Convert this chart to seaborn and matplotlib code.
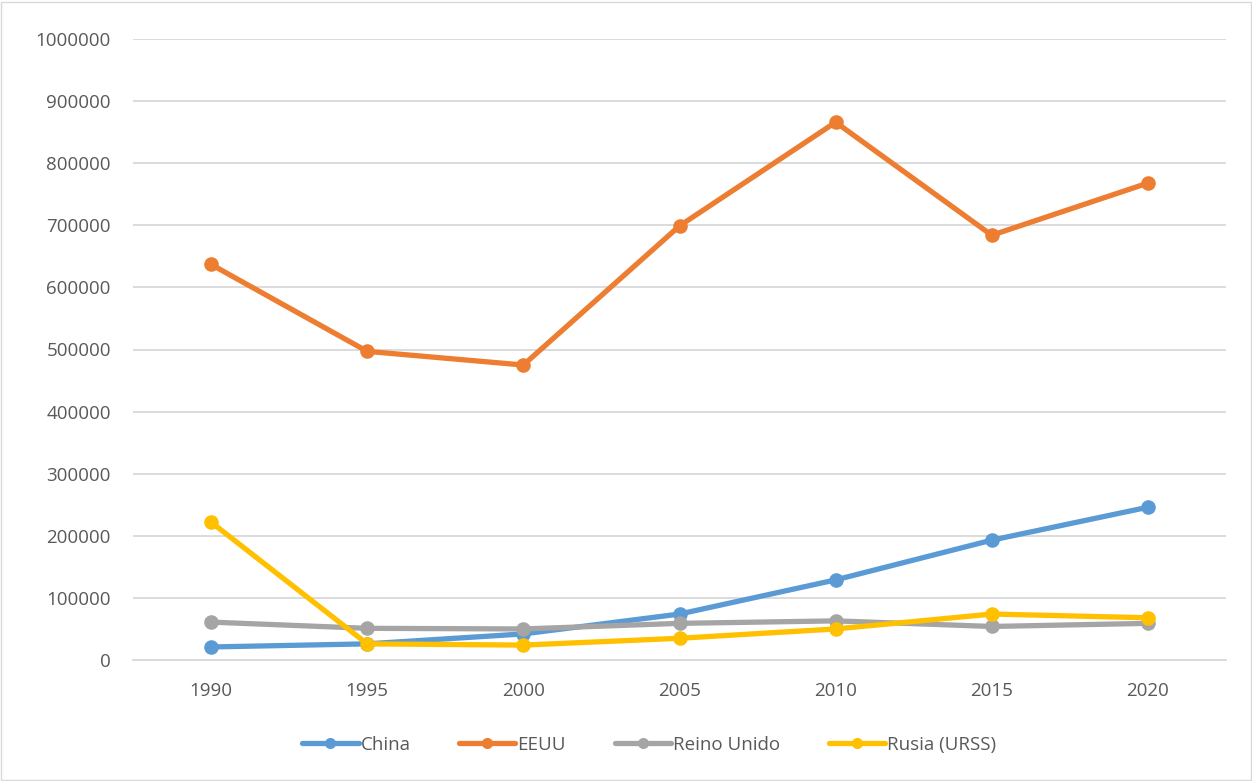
import pandas as pd
import matplotlib.pyplot as plt
import seaborn as sns
from matplotlib.patches import Rectangle

# data
years = [1990, 1995, 2000, 2005, 2010, 2015, 2020]
china = [21000, 26000, 42000, 74000, 129000, 193000, 246000]
eeuu = [637000, 497000, 475000, 699000, 866000, 684000, 768000]
reino_unido = [61000, 51000, 50000, 59000, 63000, 54000, 59000]
rusia = [222000, 26000, 24000, 35000, 50000, 74000, 68000]

series = ["China", "EEUU", "Reino Unido", "Rusia (URSS)"]
palette = ["#5B9BD5", "#ED7D31", "#A5A5A5", "#FFC000"]

df = pd.DataFrame({"year": years, "China": china, "EEUU": eeuu,
                   "Reino Unido": reino_unido, "Rusia (URSS)": rusia})
long_df = df.melt(id_vars="year", var_name="pais", value_name="valor")

#%% Plot
sns.set_style("white")
plt.rcParams["font.family"] = ["Open Sans", "DejaVu Sans"]

fig = plt.figure(figsize=(12.52, 7.81), dpi=100)
ax = fig.add_axes([133 / 1252, 1 - 660 / 781, (1226 - 133) / 1252, (660 - 39) / 781])

sns.lineplot(data=long_df, x="year", y="valor", hue="pais", hue_order=series,
             palette=palette, marker="o", markersize=10.5, markeredgewidth=0,
             linewidth=3.8, ax=ax)

ax.set_xlim(1987.5, 2022.5)
ax.set_ylim(0, 1000000)
ax.set_xticks(years)
ax.set_yticks(range(0, 1000001, 100000))
ax.set_yticklabels([str(v) for v in range(0, 1000001, 100000)])
ax.yaxis.grid(True, color="#D9D9D9", linewidth=1.3)
ax.set_axisbelow(True)
for s in ["left", "right", "top"]:
    ax.spines[s].set_visible(False)
ax.spines["bottom"].set_color("#D9D9D9")
ax.spines["bottom"].set_linewidth(1.3)
ax.tick_params(axis="both", length=0, labelsize=13.5, labelcolor="#595959")
ax.tick_params(axis="y", pad=16)
ax.tick_params(axis="x", pad=16)
ax.set_xlabel("")
ax.set_ylabel("")

handles, labels = ax.get_legend_handles_labels()
for h in handles:
    h.set_markersize(8)
ax.legend(handles, labels, loc="center", bbox_to_anchor=(649 / 1252, 1 - 745 / 781),
          bbox_transform=fig.transFigure, ncol=4, frameon=False, fontsize=13.5,
          handlelength=3.0, handletextpad=0.1, columnspacing=2.6,
          labelcolor="#595959")

# thin chart border like the spreadsheet export
fig.patches.append(Rectangle((0.001, 0.001), 0.998, 0.997, transform=fig.transFigure,
                             fill=False, edgecolor="#D9D9D9", linewidth=1))

fig.savefig("out.png", dpi=100)
